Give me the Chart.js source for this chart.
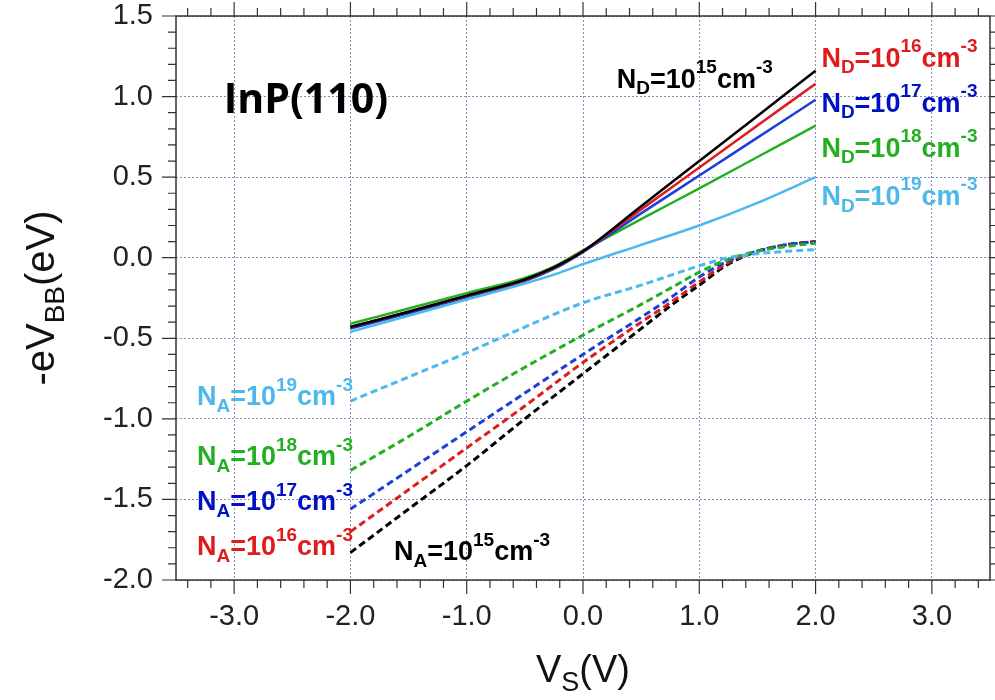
<!DOCTYPE html>
<html>
<head>
<meta charset="utf-8">
<script src="https://cdn.jsdelivr.net/npm/chart.js@4/dist/chart.umd.min.js"></script>
<style>
  html, body { margin: 0; padding: 0; background: #fff; }
  canvas { display: block; }
</style>
</head>
<body>
<canvas id="bbChart" width="995" height="700"></canvas>
<script>
// surface voltage (V) sampled for the donor (solid) curves
const vsDonor = [-2, -1.5, -1, -0.5, -0.25, 0, 0.5, 1, 1.5, 2];
const nd15 = [-0.43, -0.335, -0.235, -0.135, -0.06, 0.04, 0.32, 0.60, 0.88, 1.16];
const nd16 = [-0.43, -0.335, -0.238, -0.138, -0.063, 0.04, 0.30, 0.56, 0.82, 1.08];
const nd17 = [-0.44, -0.345, -0.245, -0.145, -0.07, 0.035, 0.275, 0.51, 0.745, 0.98];
const nd18 = [-0.41, -0.315, -0.22, -0.125, -0.055, 0.045, 0.24, 0.43, 0.625, 0.82];
const nd19 = [-0.46, -0.36, -0.26, -0.16, -0.105, -0.04, 0.08, 0.20, 0.34, 0.50];

// surface voltage (V) sampled for the acceptor (dashed) curves
const vsAcceptor = [-2, -1.5, -1, -0.5, 0, 0.5, 0.75, 1, 1.25, 1.5, 1.75, 2];
const na15 = [-1.83, -1.56, -1.29, -1.00, -0.72, -0.44, -0.30, -0.17, -0.04, 0.04, 0.08, 0.10];
const na16 = [-1.70, -1.44, -1.18, -0.92, -0.65, -0.40, -0.28, -0.15, -0.03, 0.04, 0.08, 0.10];
const na17 = [-1.56, -1.32, -1.08, -0.84, -0.60, -0.37, -0.25, -0.12, -0.02, 0.04, 0.08, 0.10];
const na18 = [-1.32, -1.11, -0.89, -0.68, -0.48, -0.29, -0.19, -0.09, -0.01, 0.04, 0.07, 0.09];
const na19 = [-0.89, -0.74, -0.59, -0.43, -0.28, -0.17, -0.11, -0.05, 0.00, 0.025, 0.04, 0.05];

const xTickValues = [-3, -2, -1, 0, 1, 2, 3];
const yTickValues = [-2, -1.5, -1, -0.5, 0, 0.5, 1, 1.5];

const BLACK = '#000000', RED = '#e01b1b', BLUE = '#1d3fd8', GREEN = '#22b022', LBLUE = '#4db8ec';
const FONT = '"Liberation Sans", Arial, sans-serif';

function pts(xs, ys) {
    return xs.map((x, i) => ({ x: x, y: ys[i] }));
}

function line(data, color, dashed) {
    return {
        data: data,
        borderColor: color,
        borderWidth: dashed ? 3 : 2.5,
        borderDash: dashed ? [7, 4] : [],
        pointRadius: 0,
        fill: false,
        cubicInterpolationMode: 'monotone'
    };
}

// curve labels: [pieces, colour, x (V), y (eV)]
const curveLabels = [
    [[['N'], ['D', 'sub'], ['=10'], ['15', 'sup'], ['cm'], ['-3', 'sup']], BLACK, 0.29, 1.054],
    [[['N'], ['D', 'sub'], ['=10'], ['16', 'sup'], ['cm'], ['-3', 'sup']], RED, 2.05, 1.186],
    [[['N'], ['D', 'sub'], ['=10'], ['17', 'sup'], ['cm'], ['-3', 'sup']], '#0010c4', 2.05, 0.907],
    [[['N'], ['D', 'sub'], ['=10'], ['18', 'sup'], ['cm'], ['-3', 'sup']], GREEN, 2.05, 0.627],
    [[['N'], ['D', 'sub'], ['=10'], ['19', 'sup'], ['cm'], ['-3', 'sup']], LBLUE, 2.05, 0.327],
    [[['N'], ['A', 'sub'], ['=10'], ['19', 'sup'], ['cm'], ['-3', 'sup']], LBLUE, -3.32, -0.915],
    [[['N'], ['A', 'sub'], ['=10'], ['18', 'sup'], ['cm'], ['-3', 'sup']], GREEN, -3.32, -1.288],
    [[['N'], ['A', 'sub'], ['=10'], ['17', 'sup'], ['cm'], ['-3', 'sup']], '#0010c4', -3.32, -1.568],
    [[['N'], ['A', 'sub'], ['=10'], ['16', 'sup'], ['cm'], ['-3', 'sup']], RED, -3.32, -1.847],
    [[['N'], ['A', 'sub'], ['=10'], ['15', 'sup'], ['cm'], ['-3', 'sup']], BLACK, -1.625, -1.878]
];

function drawRich(ctx, x, y, pieces, size, weight) {
    let cx = x;
    ctx.textAlign = 'left';
    ctx.textBaseline = 'alphabetic';
    for (const [txt, kind] of pieces) {
        const fs = kind ? Math.round(size * 0.7) : size;
        ctx.font = `${weight} ${fs}px ${FONT}`;
        let dy = 0;
        if (kind === 'sub') dy = size * 0.24;
        if (kind === 'sup') dy = -size * 0.54;
        ctx.fillText(txt, cx, y + dy);
        cx += ctx.measureText(txt).width;
    }
    return cx - x;
}

function richWidth(ctx, pieces, size, weight) {
    let w = 0;
    for (const [txt, kind] of pieces) {
        const fs = kind ? Math.round(size * 0.7) : size;
        ctx.font = `${weight} ${fs}px ${FONT}`;
        w += ctx.measureText(txt).width;
    }
    return w;
}

const framePlugin = {
    id: 'frame',
    afterDraw(chart) {
        const ctx = chart.ctx;
        const { left, right, top, bottom } = chart.chartArea;
        const xs = chart.scales.x, ys = chart.scales.y;
        ctx.save();

        // frame
        ctx.strokeStyle = '#333';
        ctx.lineWidth = 1.5;
        ctx.strokeRect(left, top, right - left, bottom - top);

        // ticks, pointing out on all four sides
        ctx.lineWidth = 1.2;
        ctx.beginPath();
        for (let i = -17; i <= 17; i++) {
            const v = i * 0.2;
            const px = xs.getPixelForValue(v);
            const len = (i % 5 === 0) ? 14 : 8;
            ctx.moveTo(px, bottom); ctx.lineTo(px, bottom + len);
            ctx.moveTo(px, top); ctx.lineTo(px, top - len);
        }
        for (let i = -20; i <= 15; i++) {
            const v = i * 0.1;
            const py = ys.getPixelForValue(v);
            const len = (i % 5 === 0) ? 14 : 8;
            ctx.moveTo(left, py); ctx.lineTo(left - len, py);
            ctx.moveTo(right, py); ctx.lineTo(right + len, py);
        }
        ctx.stroke();

        // sample name
        ctx.fillStyle = '#000';
        ctx.font = `bold 41px "Open Sans", ${FONT}`;
        ctx.textAlign = 'left';
        ctx.fillText('InP(110)', xs.getPixelForValue(-3.09), ys.getPixelForValue(0.897));

        // curve labels
        for (const [pieces, color, vx, vy] of curveLabels) {
            ctx.fillStyle = color;
            drawRich(ctx, xs.getPixelForValue(vx), ys.getPixelForValue(vy), pieces, 27, 'bold');
        }

        // axis titles
        ctx.fillStyle = '#111';
        const xTitle = [['V'], ['S', 'sub'], ['(V)']];
        const xw = richWidth(ctx, xTitle, 38, 'normal');
        drawRich(ctx, (left + right) / 2 - xw / 2, 682, xTitle, 38, 'normal');

        const yTitle = [['-eV'], ['BB', 'sub'], ['(eV)']];
        const yw = richWidth(ctx, yTitle, 40, 'normal');
        ctx.translate(54, (top + bottom) / 2);
        ctx.rotate(-Math.PI / 2);
        drawRich(ctx, -yw / 2, 0, yTitle, 40, 'normal');

        ctx.restore();
    }
};

const gridColor = '#8a8ab8';

new Chart(document.getElementById('bbChart'), {
    type: 'line',
    data: {
        datasets: [
            line(pts(vsAcceptor, na19), LBLUE, true),
            line(pts(vsAcceptor, na18), GREEN, true),
            line(pts(vsAcceptor, na17), BLUE, true),
            line(pts(vsAcceptor, na16), RED, true),
            line(pts(vsAcceptor, na15), BLACK, true),
            line(pts(vsDonor, nd19), LBLUE, false),
            line(pts(vsDonor, nd15), BLACK, false),
            line(pts(vsDonor, nd16), RED, false),
            line(pts(vsDonor, nd17), BLUE, false),
            line(pts(vsDonor, nd18), GREEN, false)
        ]
    },
    options: {
        responsive: false,
        animation: false,
        layout: { padding: { top: 16, right: 5, left: 0, bottom: 0 } },
        plugins: { legend: { display: false }, tooltip: { enabled: false } },
        scales: {
            x: {
                type: 'linear',
                min: -3.5,
                max: 3.5,
                afterBuildTicks: s => { s.ticks = xTickValues.map(v => ({ value: v })); },
                afterFit: s => { s.height = 120; s.paddingLeft = 0; s.paddingRight = 0; },
                grid: { color: gridColor, lineWidth: 1, drawTicks: false },
                border: { display: false, dash: [2, 2] },
                ticks: {
                    padding: 20,
                    color: '#222',
                    font: { family: FONT, size: 29 },
                    callback: v => v.toFixed(1)
                }
            },
            y: {
                type: 'linear',
                min: -2,
                max: 1.5,
                afterBuildTicks: s => { s.ticks = yTickValues.map(v => ({ value: v })); },
                afterFit: s => { s.width = 176; s.paddingTop = 0; s.paddingBottom = 0; },
                grid: { color: gridColor, lineWidth: 1, drawTicks: false },
                border: { display: false, dash: [2, 2] },
                ticks: {
                    padding: 23,
                    color: '#222',
                    font: { family: FONT, size: 29 },
                    callback: v => v.toFixed(1)
                }
            }
        }
    },
    plugins: [framePlugin]
});
</script>
</body>
</html>
